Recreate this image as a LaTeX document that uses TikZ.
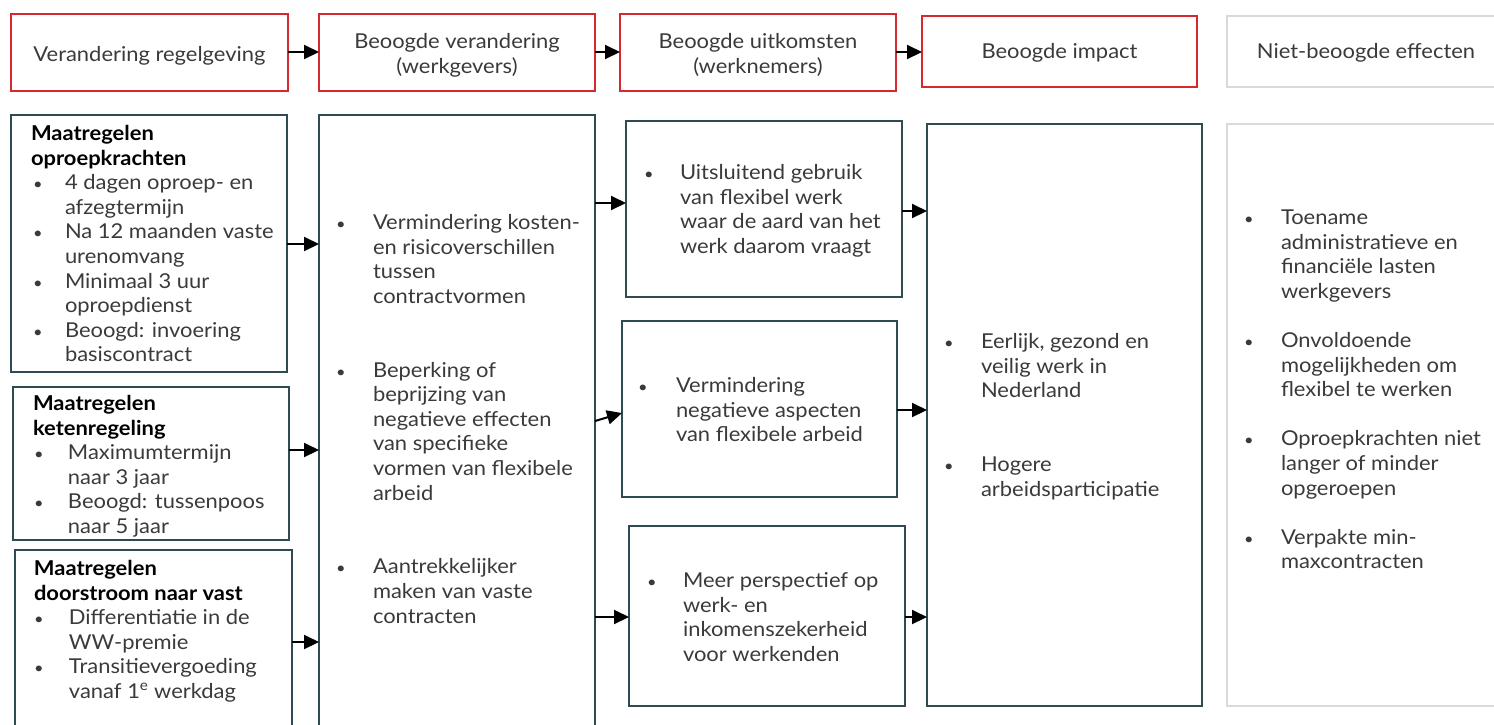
\documentclass[tikz,border=0pt]{standalone}
\usepackage{fontspec}
\setmainfont{Lato}[FakeStretch=1.07]
\usetikzlibrary{arrows.meta}
\definecolor{redb}{HTML}{D7282F}
\definecolor{tealb}{HTML}{2F4A52}
\definecolor{grayb}{HTML}{D9D9D9}
\definecolor{txt}{HTML}{3A3A3A}
\newcommand\bul[2]{\makebox[#2pt][l]{\hspace*{#1pt}\makebox[0pt]{\scalebox{0.75}{\textbullet}}}}
\newcommand\hd[1]{\multicolumn{2}{@{}l@{}}{\color{black}\bfseries #1}}
\newcommand\mkbox[6]{\node[#6, minimum width={#4-#2}, minimum height={#5-#3}] (#1) at (#2,#3) {};}
\begin{document}
\begin{tikzpicture}[x=1pt,y=-1pt,
  box/.style={draw, line width=2.4pt, inner sep=0pt, outer sep=0pt, anchor=north west},
  redbox/.style={box, draw=redb},
  tealbox/.style={box, draw=tealb},
  graybox/.style={box, draw=grayb},
  hdrtext/.style={text=txt, align=center, inner sep=0pt, font=\fontsize{20.5}{25}\selectfont},
  body/.style={anchor=base west, inner sep=0pt, outer sep=0pt, yshift=-1.5pt, text=txt, font=\fontsize{20.5}{24.6}\selectfont},
  arr/.style={line width=2pt, -{Triangle[length=15pt,width=14pt]}}
]
\useasboundingbox (0,0) rectangle (1494,724);
\clip (0,0) rectangle (1494,724);

% header row
\mkbox{h1}{11}{14}{288}{91}{redbox}
\mkbox{h2}{319}{14}{595}{91}{redbox}
\mkbox{h3}{620}{14}{896}{91}{redbox}
\mkbox{h4}{922}{16}{1197}{87}{redbox}
\mkbox{h5}{1227}{16}{1510}{87}{graybox}
\node[hdrtext] (h1t) at (149.5,55.5) {Verandering regelgeving};
\node[hdrtext] (h2t) at (457,55) {Beoogde verandering\\(werkgevers)};
\node[hdrtext] (h3t) at (758,55) {Beoogde uitkomsten\\(werknemers)};
\node[hdrtext] (h4t) at (1059.5,53) {Beoogde impact};
\node[hdrtext] (h5t) at (1366,53) {Niet-beoogde effecten};

% content boxes
\mkbox{lb1}{11}{115}{287}{372}{tealbox}
\mkbox{lb2}{13}{387}{289}{540}{tealbox}
\mkbox{lb3}{15}{550}{292}{740}{tealbox}
\mkbox{c2}{319}{115}{595}{740}{tealbox}
\mkbox{c3a}{626}{121}{902}{297}{tealbox}
\mkbox{c3b}{622}{321}{897}{497}{tealbox}
\mkbox{c3c}{629}{526}{905}{706}{tealbox}
\mkbox{c4}{927}{124}{1202}{706}{tealbox}
\mkbox{c5}{1227}{124}{1510}{706}{graybox}

% texts
\node[body] (t1) at (31,139) {\begin{tabular}[t]{@{}l@{}l@{}}
\hd{Maatregelen}\\
\hd{oproepkrachten}\\
\bul{7}{34} & 4 dagen oproep- en\\
 & afzegtermijn\\
\bul{7}{34} & Na 12 maanden vaste\\
 & urenomvang\\
\bul{7}{34} & Minimaal 3 uur\\
 & oproepdienst\\
\bul{7}{34} & Beoogd: invoering\\
 & basiscontract
\end{tabular}};

\node[body] (t2) at (33,409) {\begin{tabular}[t]{@{}l@{}l@{}}
\hd{Maatregelen}\\
\hd{ketenregeling}\\
\bul{6}{35} & Maximumtermijn\\
 & naar 3 jaar\\
\bul{6}{35} & Beoogd: tussenpoos\\
 & naar 5 jaar
\end{tabular}};

\node[body] (t3) at (34,574) {\begin{tabular}[t]{@{}l@{}l@{}}
\hd{Maatregelen}\\
\hd{doorstroom naar vast}\\
\bul{5}{35} & Differentiatie in de\\
 & WW-premie\\
\bul{5}{35} & Transitievergoeding\\
 & vanaf 1\textsuperscript{e} werkdag
\end{tabular}};

\node[body] (t4) at (336,228) {\begin{tabular}[t]{@{}l@{}l@{}}
\bul{5}{37} & Vermindering kosten-\\
 & en risicoverschillen\\
 & tussen\\
 & contractvormen\\
 & \\
 & \\
\bul{5}{37} & Beperking of\\
 & beprijzing van\\
 & negatieve effecten\\
 & van specifieke\\
 & vormen van flexibele\\
 & arbeid\\
 & \\
 & \\
\bul{5}{37} & Aantrekkelijker\\
 & maken van vaste\\
 & contracten
\end{tabular}};

\node[body] (t5) at (644,178) {\begin{tabular}[t]{@{}l@{}l@{}}
\bul{5}{36} & Uitsluitend gebruik\\
 & van flexibel werk\\
 & waar de aard van het\\
 & werk daarom vraagt
\end{tabular}};

\node[body] (t6) at (638,391) {\begin{tabular}[t]{@{}l@{}l@{}}
\bul{5}{38} & Vermindering\\
 & negatieve aspecten\\
 & van flexibele arbeid
\end{tabular}};

\node[body] (t7) at (647,586) {\begin{tabular}[t]{@{}l@{}l@{}}
\bul{5}{36} & Meer perspectief op\\
 & werk- en\\
 & inkomenszekerheid\\
 & voor werkenden
\end{tabular}};

\node[body] (t8) at (944,347) {\begin{tabular}[t]{@{}l@{}l@{}}
\bul{5}{37} & Eerlijk, gezond en\\
 & veilig werk in\\
 & Nederland\\
 & \\
 & \\
\bul{5}{37} & Hogere\\
 & arbeidsparticipatie
\end{tabular}};

\node[body] (t9) at (1244,223) {\begin{tabular}[t]{@{}l@{}l@{}}
\bul{5}{37} & Toename\\
 & administratieve en\\
 & financiële lasten\\
 & werkgevers\\
 & \\
\bul{5}{37} & Onvoldoende\\
 & mogelijkheden om\\
 & flexibel te werken\\
 & \\
\bul{5}{37} & Oproepkrachten niet\\
 & langer of minder\\
 & opgeroepen\\
 & \\
\bul{5}{37} & Verpakte min-\\
 & maxcontracten
\end{tabular}};

% connectors
\draw[arr] (h1.east |- 0,52) -- (h2.west |- 0,52);
\draw[arr] (h2.east |- 0,52) -- (h3.west |- 0,52);
\draw[arr] (h3.east |- 0,52) -- (h4.west |- 0,52);
\draw[arr] (lb1.east |- 0,244) -- (c2.west |- 0,244);
\draw[arr] (lb2.east |- 0,450) -- (c2.west |- 0,450);
\draw[arr] (lb3.east |- 0,642) -- (c2.west |- 0,642);
\draw[arr] (c2.east |- 0,203) -- (c3a.west |- 0,203);
\draw[arr] (c2.east |- 0,421) -- (c3b.west |- 0,413);
\draw[arr] (c2.east |- 0,617) -- (c3c.west |- 0,617);
\draw[arr] (c3a.east |- 0,211) -- (c4.west |- 0,211);
\draw[arr] (c3b.east |- 0,410) -- (c4.west |- 0,410);
\draw[arr] (c3c.east |- 0,617) -- (c4.west |- 0,617);
\end{tikzpicture}
\end{document}
